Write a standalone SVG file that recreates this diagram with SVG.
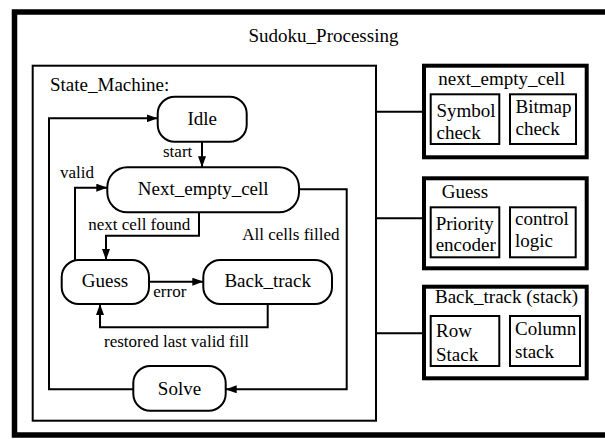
<svg xmlns="http://www.w3.org/2000/svg" width="605" height="439" viewBox="0 0 605 439" font-family="'Liberation Serif', 'DejaVu Serif', serif">
  <style>
    text { font-family: 'Liberation Serif', 'DejaVu Serif', serif; fill: #000; }
    .t19 { font-size: 19px; }
    .t17 { font-size: 17px; }
    .mid { text-anchor: middle; }
    .frame { fill: #fff; stroke: #000; stroke-width: 5.5; }
    .box { fill: none; stroke: #000; stroke-width: 2; }
    .module { fill: #fff; stroke: #000; stroke-width: 4; }
    .state { fill: #fff; stroke: #000; stroke-width: 2; }
    .wire { fill: none; stroke: #000; stroke-width: 2; }
    .arrow { marker-end: url(#head); }
  </style>
  <defs>
    <marker id="head" viewBox="0 0 11 8" refX="11" refY="4" markerWidth="11" markerHeight="8" markerUnits="userSpaceOnUse" orient="auto">
      <path d="M0,0 L11,4 L0,8 z" fill="#000"/>
    </marker>
  </defs>

  <rect width="605" height="439" fill="#fff"/>

  <!-- outer frame -->
  <g id="sudoku_processing">
    <rect class="frame" x="14.5" y="12" width="600" height="423"/>
    <text class="t19 mid" x="323.5" y="41.7">Sudoku_Processing</text>
  </g>

  <!-- state machine container -->
  <g id="state_machine">
    <rect class="box" x="32.7" y="65.7" width="343.3" height="355"/>
    <text class="t19" x="50" y="90.7">State_Machine:</text>
  </g>

  <!-- connectors -->
  <g id="connectors">
    <path class="wire arrow" d="M133.3,389.3 H49 V118.3 H157.7"/>
    <path class="wire arrow" d="M202,141.7 V167.3"/>
    <path class="wire arrow" d="M199,212.3 V235.7 H106 V260"/>
    <path class="wire arrow" d="M75,260 V187.7 H107.3"/>
    <path class="wire arrow" d="M299,189.3 H346.7 V389.3 H225.7"/>
    <path class="wire arrow" d="M149,281.7 H203.3"/>
    <path class="wire arrow" d="M267.7,304 V327.3 H100 V304"/>
    <path class="wire" d="M376,111.7 H424"/>
    <path class="wire" d="M376,218.3 H424"/>
    <path class="wire" d="M376,333.3 H424"/>
    <text class="t17" x="163" y="157">start</text>
    <text class="t17" x="60" y="178.3">valid</text>
    <text class="t17" x="88.3" y="230">next cell found</text>
    <text class="t17" x="242.3" y="240">All cells filled</text>
    <text class="t17" x="153.3" y="296.7">error</text>
    <text class="t17" x="104" y="346.7">restored last valid fill</text>
  </g>

  <!-- states -->
  <g id="idle">
    <rect class="state" x="157.7" y="96.7" width="89" height="45" rx="17"/>
    <text class="t19 mid" x="202.2" y="125.2">Idle</text>
  </g>
  <g id="next_empty_cell">
    <rect class="state" x="107.3" y="167.3" width="191.7" height="45" rx="20"/>
    <text class="t19 mid" x="203.2" y="195">Next_empty_cell</text>
  </g>
  <g id="guess">
    <rect class="state" x="61.7" y="260" width="87.3" height="44" rx="17"/>
    <text class="t19 mid" x="105" y="287">Guess</text>
  </g>
  <g id="back_track">
    <rect class="state" x="203.3" y="260" width="128.7" height="44" rx="17"/>
    <text class="t19 mid" x="267.7" y="287">Back_track</text>
  </g>
  <g id="solve">
    <rect class="state" x="133.3" y="366" width="92.4" height="44.7" rx="17"/>
    <text class="t19 mid" x="179.5" y="394.5">Solve</text>
  </g>

  <!-- hardware modules -->
  <g id="module_next_empty_cell">
    <rect class="module" x="424" y="65.7" width="162.7" height="91.6"/>
    <text class="t19" x="438.3" y="85">next_empty_cell</text>
    <rect class="box" x="430.7" y="94.3" width="68.6" height="49.7"/>
    <text class="t19" x="436.5" y="117">Symbol</text>
    <text class="t19" x="436.5" y="139">check</text>
    <rect class="box" x="510" y="94.3" width="66" height="49.7"/>
    <text class="t19" x="515.5" y="113">Bitmap</text>
    <text class="t19" x="515.5" y="135">check</text>
  </g>
  <g id="module_guess">
    <rect class="module" x="424" y="178.3" width="162.7" height="90"/>
    <text class="t19" x="441.7" y="197.7">Guess</text>
    <rect class="box" x="430.7" y="207.3" width="68.6" height="50"/>
    <text class="t19" x="435.7" y="230">Priority</text>
    <text class="t19" x="435.7" y="251">encoder</text>
    <rect class="box" x="510" y="207.3" width="65.7" height="50"/>
    <text class="t19" x="515" y="225">control</text>
    <text class="t19" x="515" y="246.5">logic</text>
  </g>
  <g id="module_back_track">
    <rect class="module" x="424" y="286.7" width="162.7" height="91.6"/>
    <text class="t19" x="435" y="303.3">Back_track (stack)</text>
    <rect class="box" x="430.7" y="316" width="68.6" height="50"/>
    <text class="t19" x="436" y="336.7">Row</text>
    <text class="t19" x="436" y="360.5">Stack</text>
    <rect class="box" x="510" y="316" width="70" height="50"/>
    <text class="t19" x="515" y="335">Column</text>
    <text class="t19" x="515" y="358.3">stack</text>
  </g>
</svg>
